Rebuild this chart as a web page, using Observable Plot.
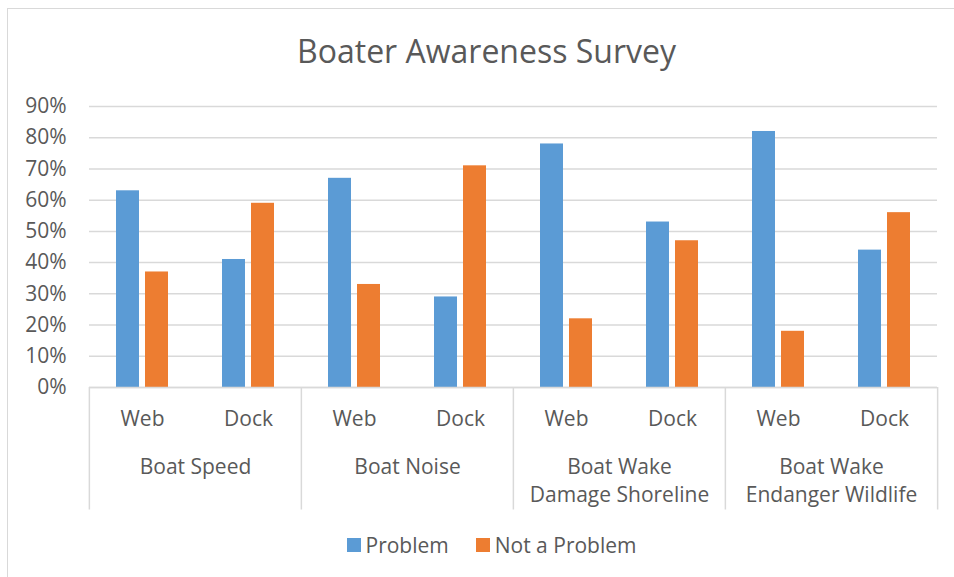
<!DOCTYPE html>
<html>
<head>
<meta charset="utf-8">
<script src="https://cdn.jsdelivr.net/npm/d3@7"></script>
<script src="https://cdn.jsdelivr.net/npm/@observablehq/plot@0.6"></script>
<style>
  html, body { margin: 0; padding: 0; background: #fff; overflow: hidden; width: 954px; height: 577px; }
  body { position: relative; font-family: "Open Sans", sans-serif; color: #595959; }
  #frame { position: absolute; left: 7px; top: 8px; width: 1000px; height: 700px; box-sizing: border-box;
           border-left: 1.5px solid #d9d9d9; border-top: 1.5px solid #d9d9d9; z-index: 2; pointer-events: none; }
  #title { position: absolute; left: 0; width: 973px; top: 29px; text-align: center; font-size: 32px; line-height: 44px; white-space: nowrap; }
  #chart { position: absolute; left: 0; top: 90px; }
  #legend { position: absolute; left: 0; width: 983px; top: 528.5px; display: flex; justify-content: center; }
  #legend .lg-swatches { font-family: "Open Sans", sans-serif !important; font-size: 21px !important; color: #595959 !important; margin: 0 !important; }
  #legend .lg-swatch { margin-right: 27px !important; }
  #legend .lg-swatch:last-child { margin-right: 0 !important; }
  #legend .lg-swatch > svg { margin-right: 5px !important; }
</style>
</head>
<body>
<div id="frame"></div>
<div id="title">Boater Awareness Survey</div>
<div id="chart"></div>
<div id="legend"></div>
<script>
// ---- data ----
const groups = ["Boat Speed", "Boat Noise", "Boat Wake\nDamage Shoreline", "Boat Wake\nEndanger Wildlife"];
const sources = ["Web", "Dock"];
const series = ["Problem", "Not a Problem"];
// order: Speed-Web, Speed-Dock, Noise-Web, Noise-Dock, Shore-Web, Shore-Dock, Wildlife-Web, Wildlife-Dock
const problem    = [0.63, 0.41, 0.67, 0.29, 0.78, 0.53, 0.82, 0.44];
const notProblem = [0.37, 0.59, 0.33, 0.71, 0.22, 0.47, 0.18, 0.56];
const yTicks = [0, 0.1, 0.2, 0.3, 0.4, 0.5, 0.6, 0.7, 0.8, 0.9];
const colors = ["#5B9BD5", "#ED7D31"];

// ---- table ----
const keys = [];
const subOf = {};
const groupOf = {};
groups.forEach((g, gi) => sources.forEach((s, si) => {
  const k = gi + "|" + s;
  keys.push(k); subOf[k] = s; groupOf[k] = g;
}));
const rows = [];
keys.forEach((k, i) => {
  rows.push({key: k, series: series[0], value: problem[i]});
  rows.push({key: k, series: series[1], value: notProblem[i]});
});
const firstKeys = keys.filter(k => subOf[k] === sources[0]);
const lastKey = [keys[keys.length - 1]];

// ---- layout ----
const W = 954, H = 422, ML = 88, MR = 16, MT = 16, MB = 125;
const facetW = (W - ML - MR) / keys.length;
const grey = "#d9d9d9";

const chart = Plot.plot({
  width: W, height: H,
  marginLeft: ML, marginRight: MR, marginTop: MT, marginBottom: MB,
  style: {fontFamily: "Open Sans, sans-serif", fontSize: "21px", color: "#595959", background: "none", overflow: "visible"},
  fx: {domain: keys, padding: 0, label: null},
  x: {domain: series, paddingInner: 0.2, paddingOuter: 0.87, axis: null},
  y: {domain: [0, 0.9], label: null},
  color: {domain: series, range: colors},
  marks: [
    Plot.gridY(yTicks, {stroke: grey, strokeOpacity: 1, strokeWidth: 1.5}),
    Plot.axisY({ticks: yTicks, tickFormat: d3.format(".0%"), tickSize: 0, tickPadding: 23, label: null}),
    Plot.barY(rows, {fx: "key", x: "series", y: "value", fill: "series"}),
    Plot.ruleY([0], {stroke: grey, strokeWidth: 1.5}),
    Plot.axisFx({anchor: "bottom", tickSize: 0, tickPadding: 24, tickFormat: k => subOf[k], label: null}),
    Plot.text(firstKeys, {fx: d => d, text: d => groupOf[d], frameAnchor: "bottom-right",
      textAnchor: "middle", lineAnchor: "top", dy: 67, lineHeight: 28 / 21, fill: "#595959"}),
    Plot.ruleX(firstKeys, {fx: d => d, x: null, y: 0, dx: -facetW / 2, insetBottom: -122.5, stroke: grey, strokeWidth: 1.5}),
    Plot.ruleX(lastKey, {fx: d => d, x: null, y: 0, dx: facetW / 2, insetBottom: -122.5, stroke: grey, strokeWidth: 1.5})
  ]
});
document.getElementById("chart").appendChild(chart);

const legend = chart.legend("color", {className: "lg", swatchSize: 14});
document.getElementById("legend").appendChild(legend);
</script>
</body>
</html>
